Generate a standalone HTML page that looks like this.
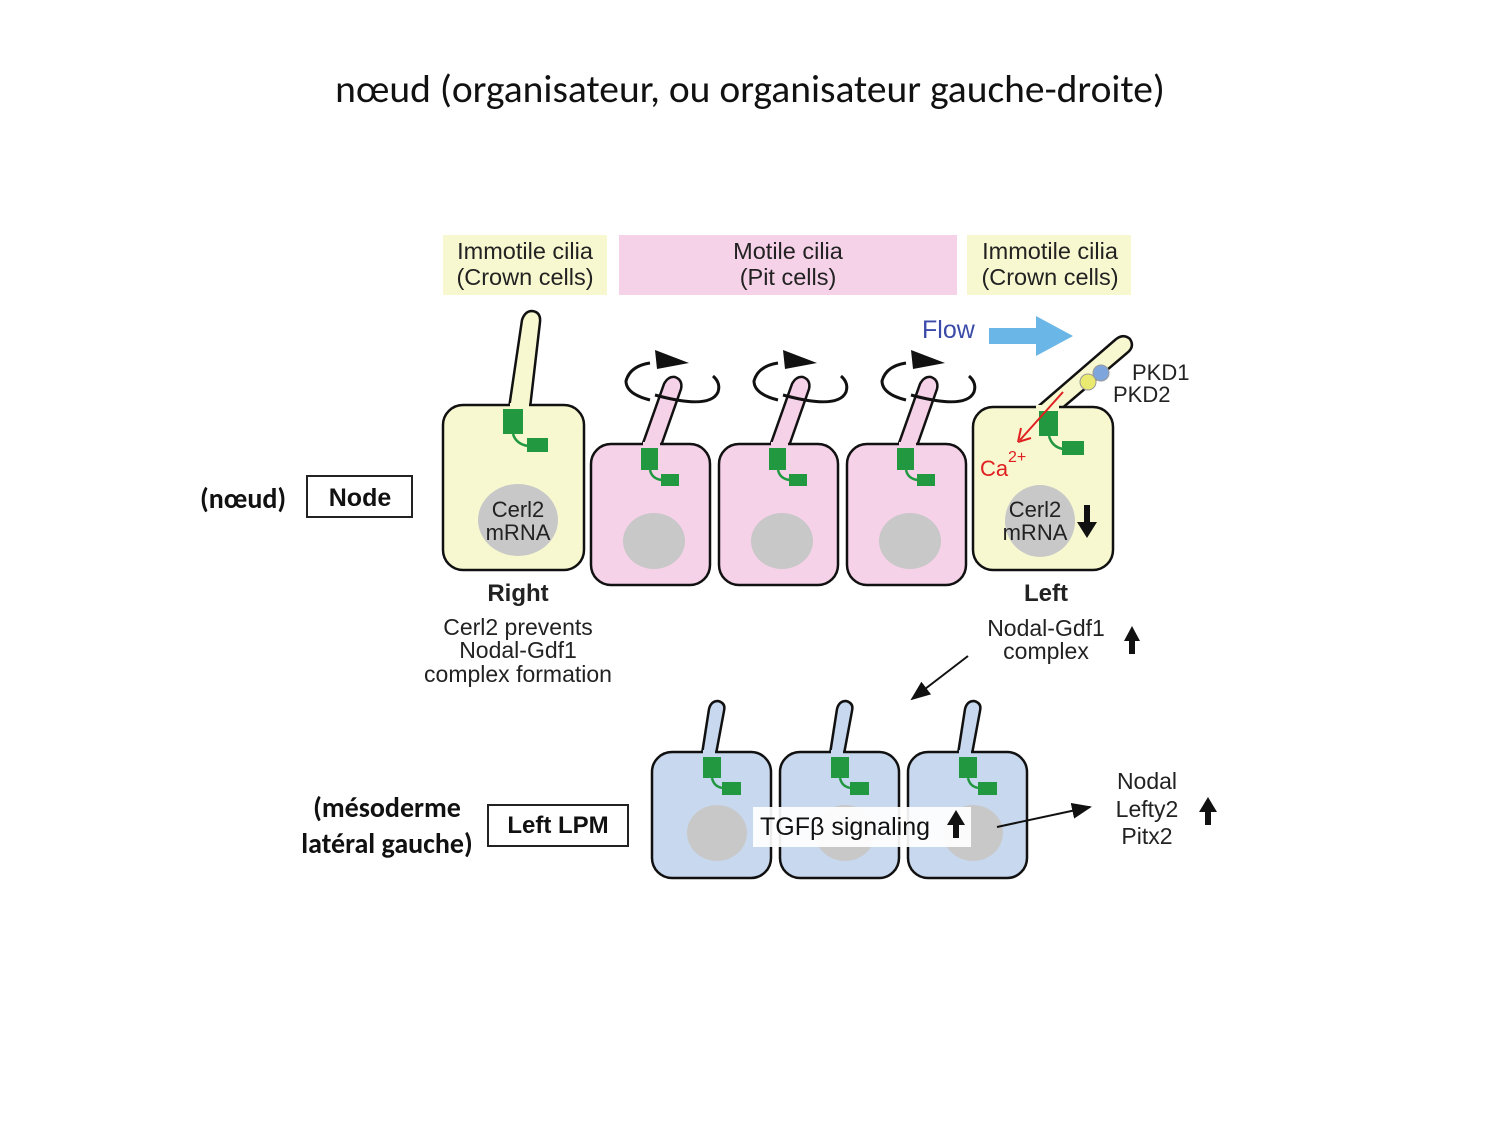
<!DOCTYPE html>
<html><head><meta charset="utf-8"><style>
html,body{margin:0;padding:0;background:#fff;}
svg{display:block;}
text{font-family:"Liberation Sans",sans-serif;}
.c{font-family:Carlito,Calibri,"Liberation Sans",sans-serif;}
</style></head><body>
<svg width="1500" height="1125" viewBox="0 0 1500 1125" xmlns="http://www.w3.org/2000/svg">
<defs>
<marker id="ah" markerWidth="20" markerHeight="16" refX="18" refY="8" orient="auto" markerUnits="userSpaceOnUse"><path d="M0,0 L20,8 L0,16 Z" fill="#111"/></marker>
</defs>
<text x="750" y="102" text-anchor="middle" font-size="39.5" fill="#111" class="c">nœud (organisateur, ou organisateur gauche-droite)</text>

<rect x="443" y="235" width="164" height="60" fill="#f8f8d0"/>
<rect x="619" y="235" width="338" height="60" fill="#f5d2e8"/>
<rect x="967" y="235" width="164" height="60" fill="#f8f8d0"/>
<g font-size="23.5" fill="#222" text-anchor="middle">
<text x="525" y="259">Immotile cilia</text><text x="525" y="285">(Crown cells)</text>
<text x="788" y="259">Motile cilia</text><text x="788" y="285">(Pit cells)</text>
<text x="1050" y="259">Immotile cilia</text><text x="1050" y="285">(Crown cells)</text>
</g>

<!-- Right crown cell -->
<path d="M509,408 L522,320 Q525,311 532,311 Q541,312 540,322 L530,408" fill="#f8f8d0" stroke="#111" stroke-width="2.5"/>
<rect x="443" y="405" width="141" height="165" rx="20" fill="#f8f8d0" stroke="#111" stroke-width="2.5"/>
<rect x="510" y="403" width="19" height="5" fill="#f8f8d0"/>
<rect x="503" y="409" width="20" height="25" fill="#229940"/>
<rect x="527" y="438" width="21" height="14" fill="#229940"/>
<path d="M513,434 Q516,444 528,446" fill="none" stroke="#229940" stroke-width="2.5"/>
<ellipse cx="518" cy="520" rx="40" ry="36" fill="#c8c8c8"/>
<text x="518" y="517" text-anchor="middle" font-size="22" fill="#222">Cerl2</text>
<text x="518" y="540" text-anchor="middle" font-size="22" fill="#222">mRNA</text>

<g id="pink">
<path d="M642,446 L664,384 Q668,376 675,377 Q683,380 681,389 L661,446" fill="#f5d2e8" stroke="#111" stroke-width="2.5"/>
<rect x="591" y="444" width="119" height="141" rx="20" fill="#f5d2e8" stroke="#111" stroke-width="2.5"/>
<rect x="643" y="442" width="17" height="4" fill="#f5d2e8"/>
<rect x="641" y="448" width="17" height="22" fill="#229940"/>
<rect x="661" y="474" width="18" height="12" fill="#229940"/>
<path d="M650,470 Q652,479 662,480" fill="none" stroke="#229940" stroke-width="2.5"/>
<ellipse cx="654" cy="541" rx="31" ry="28" fill="#c8c8c8"/>
<path d="M650,400 Q626,394 626,381 Q630,366 650,363" fill="none" stroke="#111" stroke-width="3"/>
<path d="M655,395 Q710,410 718,392 Q721,383 713,376" fill="none" stroke="#111" stroke-width="3"/>
<path d="M655,350 L689,363 L657,369 Z" fill="#111"/>
</g>
<use href="#pink" x="128"/>
<use href="#pink" x="256"/>

<!-- Left crown cell -->
<path d="M1034,410 L1115,340 Q1123,333 1130,339 Q1135,347 1127,353 L1060,410" fill="#f8f8d0" stroke="#111" stroke-width="2.5"/>
<rect x="973" y="407" width="140" height="163" rx="20" fill="#f8f8d0" stroke="#111" stroke-width="2.5"/>
<rect x="1036" y="405" width="23" height="5" fill="#f8f8d0"/>
<circle cx="1088" cy="382" r="8" fill="#eaea70" stroke="#999" stroke-width="1"/>
<circle cx="1101" cy="373" r="8" fill="#7ea6dc" stroke="#999" stroke-width="1"/>
<text x="1132" y="380" font-size="22" fill="#222">PKD1</text>
<text x="1113" y="402" font-size="22" fill="#222">PKD2</text>
<rect x="1039" y="411" width="19" height="25" fill="#229940"/>
<rect x="1062" y="441" width="22" height="14" fill="#229940"/>
<path d="M1049,436 Q1052,447 1063,449" fill="none" stroke="#229940" stroke-width="2.5"/>
<path d="M1063,392 L1020,440" stroke="#e02020" stroke-width="2"/>
<path d="M1018,442 L1021,428 M1018,442 L1031,438" stroke="#e02020" stroke-width="2" fill="none"/>
<text x="980" y="476" font-size="22" fill="#e02020">Ca</text>
<text x="1008" y="462" font-size="16" fill="#e02020">2+</text>
<ellipse cx="1040" cy="521" rx="35" ry="36" fill="#c8c8c8"/>
<text x="1035" y="517" text-anchor="middle" font-size="22" fill="#222">Cerl2</text>
<text x="1035" y="540" text-anchor="middle" font-size="22" fill="#222">mRNA</text>
<path d="M1084,505 L1090,505 L1090,522 L1097,522 L1087,538 L1077,522 L1084,522 Z" fill="#111"/>

<text x="922" y="338" font-size="25" fill="#3a4aa8">Flow</text>
<path d="M989,328 L1036,328 L1036,316 L1073,336 L1036,356 L1036,344 L989,344 Z" fill="#6ab6e6"/>

<text x="200" y="508" font-size="28" font-weight="bold" fill="#111" class="c">(nœud)</text>
<rect x="307" y="476" width="105" height="41" fill="#fff" stroke="#222" stroke-width="2"/>
<text x="360" y="506" text-anchor="middle" font-size="25" font-weight="bold" fill="#111">Node</text>
<text x="518" y="601" text-anchor="middle" font-size="24" font-weight="bold" fill="#222">Right</text>
<g font-size="23" fill="#222" text-anchor="middle">
<text x="518" y="635">Cerl2 prevents</text>
<text x="518" y="658">Nodal-Gdf1</text>
<text x="518" y="682">complex formation</text>
<text x="1046" y="636">Nodal-Gdf1</text>
<text x="1046" y="659">complex</text>
</g>
<text x="1046" y="601" text-anchor="middle" font-size="24" font-weight="bold" fill="#222">Left</text>
<path d="M1129,654 L1135,654 L1135,641 L1140,641 L1132,626 L1124,641 L1129,641 Z" fill="#111"/>
<line x1="968" y1="656" x2="912" y2="699" stroke="#111" stroke-width="2" marker-end="url(#ah)"/>

<text x="387" y="817" text-anchor="middle" font-size="28" font-weight="bold" fill="#111" class="c">(mésoderme</text>
<text x="387" y="853" text-anchor="middle" font-size="28" font-weight="bold" fill="#111" class="c">latéral gauche)</text>
<rect x="488" y="805" width="140" height="41" fill="#fff" stroke="#222" stroke-width="2"/>
<text x="558" y="833" text-anchor="middle" font-size="24" font-weight="bold" fill="#111">Left LPM</text>

<g id="blue">
<path d="M702,754 L709,709 Q711,701 718,701 Q726,703 724,711 L716,754" fill="#c8d8ee" stroke="#111" stroke-width="2.5"/>
<rect x="652" y="752" width="119" height="126" rx="20" fill="#c8d8ee" stroke="#111" stroke-width="2.5"/>
<rect x="703" y="750" width="12" height="4" fill="#c8d8ee"/>
<rect x="703" y="757" width="18" height="21" fill="#229940"/>
<rect x="722" y="782" width="19" height="13" fill="#229940"/>
<path d="M712,778 Q714,787 723,788" fill="none" stroke="#229940" stroke-width="2.5"/>
<ellipse cx="717" cy="833" rx="30" ry="28" fill="#c8c8c8"/>
</g>
<use href="#blue" x="128"/>
<use href="#blue" x="256"/>
<rect x="753" y="807" width="218" height="40" fill="#fff" opacity="0.92"/>
<text x="760" y="835" font-size="25" fill="#111">TGFβ signaling</text>
<path d="M953,838 L959,838 L959,825 L965,825 L956,810 L947,825 L953,825 Z" fill="#111"/>
<line x1="997" y1="827" x2="1090" y2="807" stroke="#111" stroke-width="2" marker-end="url(#ah)"/>
<g font-size="23" fill="#222" text-anchor="middle">
<text x="1147" y="789">Nodal</text>
<text x="1147" y="817">Lefty2</text>
<text x="1147" y="844">Pitx2</text>
</g>
<path d="M1205,825 L1211,825 L1211,812 L1217,812 L1208,797 L1199,812 L1205,812 Z" fill="#111"/>
</svg>
</body></html>
